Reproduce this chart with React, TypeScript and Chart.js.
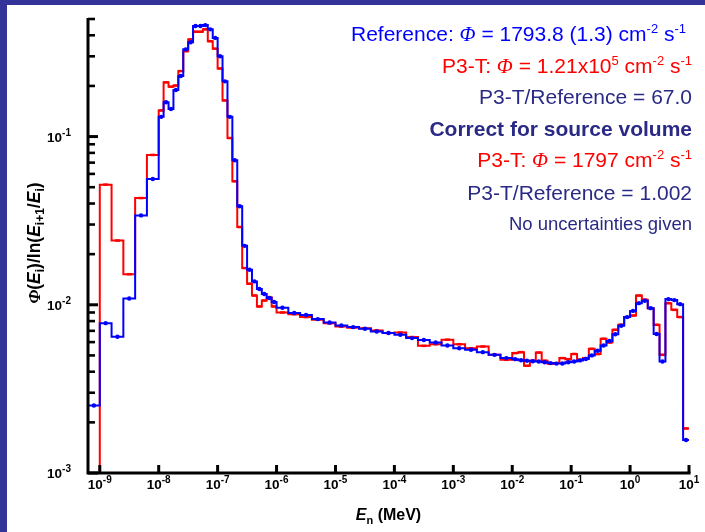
import React, { useEffect, useRef } from 'react';
import { Chart, registerables } from 'chart.js';

Chart.register(...registerables);

// ---- DATA ----
// bin edges given as log10(E / MeV)
const binEdgeExponents = [
  -9.2, -9.0, -8.8, -8.6, -8.4, -8.2,
  -8.0, -7.917, -7.833, -7.75, -7.667, -7.583, -7.5, -7.417, -7.333, -7.25, -7.167, -7.083,
  -7.0, -6.917, -6.833, -6.75, -6.667, -6.583, -6.5, -6.417, -6.333, -6.25, -6.167, -6.083,
  -6.0, -5.8, -5.6, -5.4, -5.2, -5.0, -4.8, -4.6, -4.4, -4.2,
  -4.0, -3.8, -3.6, -3.4, -3.2, -3.0, -2.8, -2.6, -2.4, -2.2,
  -2.0, -1.9, -1.8, -1.7, -1.6, -1.5, -1.4, -1.3, -1.2, -1.1,
  -1.0, -0.9, -0.8, -0.7, -0.6, -0.5, -0.4, -0.3, -0.2, -0.1,
  0.0, 0.1, 0.2, 0.3, 0.4, 0.5, 0.6, 0.7, 0.8, 0.9, 1.0,
];

const referenceValues = [
  0.00252, 0.00778, 0.00646, 0.0109, 0.034, 0.056,
  0.131, 0.16, 0.146, 0.189, 0.229, 0.33, 0.364, 0.454, 0.454, 0.46, 0.434, 0.386,
  0.30, 0.213, 0.131, 0.0723, 0.0385, 0.0224, 0.01614, 0.01377, 0.0124, 0.01159, 0.01097, 0.01038,
  0.0096, 0.00893, 0.00871, 0.00822, 0.00785, 0.00754, 0.00737, 0.0072, 0.00694, 0.00679,
  0.00663, 0.00634, 0.00617, 0.00597, 0.00573, 0.00552, 0.0054, 0.00523, 0.00504, 0.00482,
  0.00475, 0.00468, 0.00465, 0.00462, 0.0046, 0.00455, 0.0045, 0.00447, 0.00448, 0.00455,
  0.0046, 0.00467, 0.00476, 0.005, 0.00533, 0.00573, 0.0061, 0.00668, 0.00751, 0.00845,
  0.0092, 0.01023, 0.01056, 0.00955, 0.0067, 0.0046, 0.01081, 0.01066, 0.01009, 0.00157,
];

const p3tValues = [
  0.00098, 0.0518, 0.0241, 0.0152, 0.0431, 0.0778,
  0.143, 0.21, 0.198, 0.201, 0.245, 0.322, 0.378, 0.42, 0.42, 0.434, 0.369, 0.333,
  0.254, 0.164, 0.098, 0.0542, 0.029, 0.01652, 0.01334, 0.01135, 0.00977, 0.0106, 0.0111, 0.00977,
  0.009, 0.0088, 0.00845, 0.00815, 0.00776, 0.00743, 0.00731, 0.00725, 0.00703, 0.00679,
  0.00684, 0.00643, 0.0057, 0.00583, 0.0062, 0.00583, 0.00552, 0.00565, 0.00504, 0.00471,
  0.00516, 0.00523, 0.00434, 0.00465, 0.0052, 0.00465, 0.00446, 0.0045, 0.00482, 0.00475,
  0.0051, 0.00471, 0.00482, 0.00547, 0.00509, 0.00628, 0.00597, 0.0071, 0.0076, 0.00845,
  0.00863, 0.01135, 0.01072, 0.00955, 0.0076, 0.00504, 0.01023, 0.00933, 0.00845, 0.00184,
];

const xTickExponents = [-9, -8, -7, -6, -5, -4, -3, -2, -1, 0, 1];
const yTickExponents = [-3, -2, -1];
const yMinorMultipliers = [2, 3, 4, 5, 6, 7, 8, 9];
const xMin = 6.31e-10;
const xMax = 10;
const yMin = 0.001;
const yMax = 0.5;

// ---- STYLE ----
const SANS = '"Liberation Sans", Arial, sans-serif';
const SERIF = '"Liberation Serif", "Times New Roman", serif';
const NAVY = '#333399';
const TEXT_NAVY = '#2a2a86';
const BLUE = '#0000ff';
const RED = '#ff0000';

type Run = {
  t: string;
  size: number;
  bold?: boolean;
  italic?: boolean;
  serif?: boolean;
  color?: string;
  dy?: number;
};

function fontOf(r: Run) {
  return `${r.italic ? 'italic ' : ''}${r.bold ? 'bold ' : ''}${r.size}px ${r.serif ? SERIF : SANS}`;
}

function runsWidth(ctx: CanvasRenderingContext2D, runs: Run[]) {
  let w = 0;
  for (const r of runs) {
    ctx.font = fontOf(r);
    w += ctx.measureText(r.t).width;
  }
  return w;
}

function drawRuns(
  ctx: CanvasRenderingContext2D,
  runs: Run[],
  x: number,
  y: number,
  align: 'left' | 'right' | 'center',
  color: string
) {
  const w = runsWidth(ctx, runs);
  let cx = align === 'left' ? x : align === 'right' ? x - w : x - w / 2;
  ctx.textAlign = 'left';
  ctx.textBaseline = 'alphabetic';
  for (const r of runs) {
    ctx.font = fontOf(r);
    ctx.fillStyle = r.color || color;
    ctx.fillText(r.t, cx, y + (r.dy || 0));
    cx += ctx.measureText(r.t).width;
  }
}

function stepPoints(values: number[]) {
  const pts = values.map((v, i) => ({ x: Math.pow(10, binEdgeExponents[i]), y: v }));
  pts.push({ x: Math.pow(10, binEdgeExponents[values.length]), y: values[values.length - 1] });
  return pts;
}

function centerPoints(values: number[]) {
  return values.map((v, i) => ({
    x: Math.pow(10, (binEdgeExponents[i] + binEdgeExponents[i + 1]) / 2),
    y: v,
  }));
}

const framePlugin = {
  id: 'frame',
  beforeDraw(chart: any) {
    const ctx = chart.ctx as CanvasRenderingContext2D;
    ctx.save();
    ctx.fillStyle = '#ffffff';
    ctx.fillRect(0, 0, chart.width, chart.height);
    ctx.fillStyle = NAVY;
    ctx.fillRect(0, 0, chart.width, 5);
    ctx.fillRect(0, 0, 7, chart.height);
    ctx.restore();
  },
  afterDatasetsDraw(chart: any) {
    const ctx = chart.ctx as CanvasRenderingContext2D;
    const xs = chart.scales.x;
    const ys = chart.scales.y;
    const a = chart.chartArea;
    ctx.save();
    ctx.strokeStyle = '#000000';
    ctx.lineCap = 'butt';

    // axes lines
    ctx.lineWidth = 3;
    ctx.beginPath();
    ctx.moveTo(a.left, a.top - 1);
    ctx.lineTo(a.left, a.bottom);
    ctx.lineTo(a.right + 1.5, a.bottom);
    ctx.stroke();

    // y ticks
    for (const e of yTickExponents) {
      const base = Math.pow(10, e);
      const py = ys.getPixelForValue(base);
      ctx.lineWidth = 3;
      ctx.beginPath();
      ctx.moveTo(a.left, py);
      ctx.lineTo(a.left + 10, py);
      ctx.stroke();
      for (const m of yMinorMultipliers) {
        const v = base * m;
        if (v > yMax * 1.0001) continue;
        const my = ys.getPixelForValue(v);
        ctx.lineWidth = 2.6;
        ctx.beginPath();
        ctx.moveTo(a.left, my);
        ctx.lineTo(a.left + 7, my);
        ctx.stroke();
      }
      drawRuns(
        ctx,
        [
          { t: '10', size: 13.5, bold: true },
          { t: String(e), size: 10, bold: true, dy: -6 },
        ],
        a.left - 17,
        py + 5,
        'right',
        '#000000'
      );
    }

    // x ticks
    for (const e of xTickExponents) {
      const px = xs.getPixelForValue(Math.pow(10, e));
      ctx.lineWidth = 3;
      ctx.beginPath();
      ctx.moveTo(px, a.bottom);
      ctx.lineTo(px, a.bottom - 8);
      ctx.stroke();
      drawRuns(
        ctx,
        [
          { t: '10', size: 13.5, bold: true },
          { t: String(e), size: 10, bold: true, dy: -6 },
        ],
        px,
        a.bottom + 16,
        'center',
        '#000000'
      );
    }

    // x title
    drawRuns(
      ctx,
      [
        { t: 'E', size: 16, bold: true, italic: true },
        { t: 'n', size: 11, bold: true, dy: 4 },
        { t: ' (MeV)', size: 16, bold: true },
      ],
      (a.left + a.right) / 2,
      a.bottom + 47,
      'center',
      '#000000'
    );

    // y title
    ctx.save();
    ctx.translate(40, 243);
    ctx.rotate(-Math.PI / 2);
    const T = 17.5;
    const s = 12;
    drawRuns(
      ctx,
      [
        { t: 'Φ', size: T, bold: true, italic: true, serif: true },
        { t: '(', size: T, bold: true },
        { t: 'E', size: T, bold: true, italic: true },
        { t: 'i', size: s, bold: true, dy: 4 },
        { t: ')/ln(', size: T, bold: true },
        { t: 'E', size: T, bold: true, italic: true },
        { t: 'i+1', size: s, bold: true, dy: 4 },
        { t: '/', size: T, bold: true },
        { t: 'E', size: T, bold: true, italic: true },
        { t: 'i', size: s, bold: true, dy: 4 },
        { t: ')', size: T, bold: true },
      ],
      0,
      0,
      'center',
      '#000000'
    );
    ctx.restore();

    // annotations
    const S = 21;
    const sup = (t: string): Run => ({ t, size: 13, dy: -8 });
    const phi: Run = { t: 'Φ', size: S, italic: true, serif: true };
    drawRuns(
      ctx,
      [{ t: 'Reference: ', size: S }, phi, { t: ' = 1793.8 (1.3) cm', size: S }, sup('-2'), { t: ' s', size: S }, sup('-1')],
      686, 41, 'right', BLUE
    );
    drawRuns(
      ctx,
      [{ t: 'P3-T: ', size: S }, phi, { t: ' = 1.21x10', size: S }, sup('5'), { t: ' cm', size: S }, sup('-2'), { t: ' s', size: S }, sup('-1')],
      692, 72.5, 'right', RED
    );
    drawRuns(ctx, [{ t: 'P3-T/Reference = 67.0', size: S }], 692, 104, 'right', TEXT_NAVY);
    drawRuns(ctx, [{ t: 'Correct for source volume', size: S, bold: true }], 692, 136, 'right', TEXT_NAVY);
    drawRuns(
      ctx,
      [{ t: 'P3-T: ', size: S }, phi, { t: ' = 1797 cm', size: S }, sup('-2'), { t: ' s', size: S }, sup('-1')],
      692, 167, 'right', RED
    );
    drawRuns(ctx, [{ t: 'P3-T/Reference = 1.002', size: S }], 692, 199.5, 'right', TEXT_NAVY);
    drawRuns(ctx, [{ t: 'No uncertainties given', size: 18.5 }], 692, 230, 'right', TEXT_NAVY);

    ctx.restore();
  },
};

export default function App() {
  const canvasRef = useRef<HTMLCanvasElement | null>(null);

  useEffect(() => {
    const canvas = canvasRef.current;
    if (!canvas) return;
    const chart = new Chart(canvas, {
      type: 'line',
      data: {
        datasets: [
          {
            label: 'Reference',
            data: stepPoints(referenceValues),
            borderColor: BLUE,
            borderWidth: 2,
            pointRadius: 0,
            stepped: 'before',
            fill: false,
            order: 1,
          } as any,
          {
            label: 'Reference markers',
            data: centerPoints(referenceValues),
            showLine: false,
            pointStyle: 'circle',
            pointRadius: 2.2,
            pointBorderWidth: 0,
            backgroundColor: BLUE,
            borderColor: BLUE,
            order: 0,
          } as any,
          {
            label: 'P3-T',
            data: stepPoints(p3tValues),
            borderColor: RED,
            borderWidth: 2,
            pointRadius: 0,
            stepped: 'before',
            fill: false,
            order: 3,
          } as any,
          {
            label: 'P3-T markers',
            data: centerPoints(p3tValues),
            showLine: false,
            pointStyle: 'line',
            pointRadius: 2.5,
            pointBorderWidth: 2.5,
            backgroundColor: RED,
            borderColor: RED,
            order: 2,
          } as any,
        ],
      },
      options: {
        responsive: false,
        animation: false,
        devicePixelRatio: 1,
        layout: { padding: { left: 88, right: 16, top: 19, bottom: 59 } },
        scales: {
          x: { type: 'logarithmic', min: xMin, max: xMax, display: false },
          y: { type: 'logarithmic', min: yMin, max: yMax, display: false },
        },
        plugins: {
          legend: { display: false },
          tooltip: { enabled: false },
        },
        events: [],
      },
      plugins: [framePlugin],
    });
    return () => chart.destroy();
  }, []);

  return (
    <div style={{ position: 'absolute', left: 0, top: 0, width: 705, height: 532 }}>
      <canvas ref={canvasRef} width={705} height={532} style={{ width: 705, height: 532, display: 'block' }} />
    </div>
  );
}
